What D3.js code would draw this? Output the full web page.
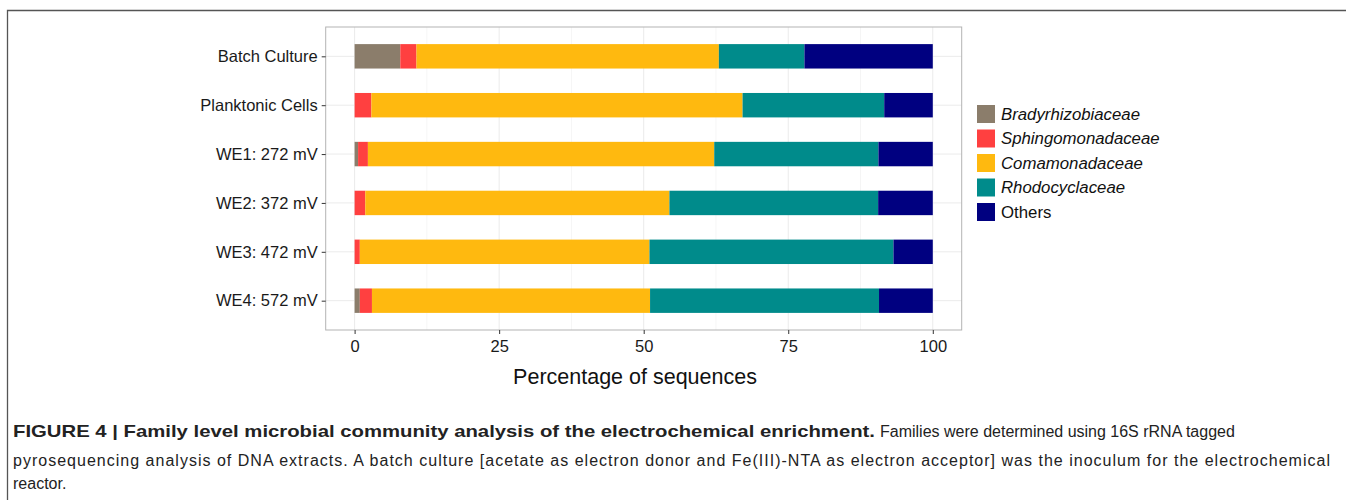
<!DOCTYPE html>
<html>
<head>
<meta charset="utf-8">
<script src="https://cdn.jsdelivr.net/npm/d3@7"></script>
<style>
  body { margin: 0; background: #fff; }
  text { font-family: "Liberation Sans", Arial, sans-serif; }
</style>
</head>
<body>
<div id="chart"></div>
<script>
(function () {
    var width = 1346, height = 500;

    // data (percent of sequences)
    var samples = ["Batch Culture", "Planktonic Cells", "WE1: 272 mV", "WE2: 372 mV", "WE3: 472 mV", "WE4: 572 mV"];
    var families = ["Bradyrhizobiaceae", "Sphingomonadaceae", "Comamonadaceae", "Rhodocyclaceae", "Others"];
    var brady   = [7.9, 0.0, 0.6, 0.0, 0.0, 0.9];
    var sphingo = [2.8, 2.9, 1.7, 1.85, 0.9, 2.1];
    var comam   = [52.3, 64.2, 59.9, 52.6, 50.1, 48.1];
    var rhodo   = [14.8, 24.5, 28.4, 36.1, 42.2, 39.6];
    var others  = [22.2, 8.4, 9.4, 9.45, 6.8, 9.3];
    var xTicks = [0, 25, 50, 75, 100];
    var colors = ["#8B7D6B", "#FF4040", "#FFB90F", "#008B8B", "#000080"];

    var series = [brady, sphingo, comam, rhodo, others];
    var table = samples.map(function (s, i) {
        var row = { sample: s };
        families.forEach(function (f, j) { row[f] = series[j][i]; });
        return row;
    });

    var svg = d3.select("#chart")
        .append("svg")
        .attr("width", width)
        .attr("height", height);

    // outer figure frame
    svg.append("path")
        .attr("d", "M7.5," + height + "V10.5H" + width)
        .attr("fill", "none")
        .attr("stroke", "#555")
        .attr("stroke-width", 1.3);

    // panel
    var panel = { left: 325.7, right: 961.7, top: 27, bottom: 330 };

    var x = d3.scaleLinear().domain([-5, 105]).range([panel.left, panel.right]);
    // ggplot-style discrete axis: 0.6 unit expansion, bars 0.5 unit wide
    var y = d3.scalePoint().domain(samples)
        .range([panel.top, panel.bottom]).padding(0.6);
    var barH = 0.5 * y.step();

    var g = svg.append("g");

    // minor grid
    var minor = [12.5, 37.5, 62.5, 87.5];
    g.selectAll(".minor").data(minor).enter().append("line")
        .attr("x1", function (d) { return x(d); }).attr("x2", function (d) { return x(d); })
        .attr("y1", panel.top).attr("y2", panel.bottom)
        .attr("stroke", "#f3f3f3").attr("stroke-width", 0.8);
    // major grid
    g.selectAll(".majorx").data(xTicks).enter().append("line")
        .attr("x1", function (d) { return x(d); }).attr("x2", function (d) { return x(d); })
        .attr("y1", panel.top).attr("y2", panel.bottom)
        .attr("stroke", "#ebebeb").attr("stroke-width", 1);
    g.selectAll(".majory").data(samples).enter().append("line")
        .attr("x1", panel.left).attr("x2", panel.right)
        .attr("y1", function (d) { return y(d); }).attr("y2", function (d) { return y(d); })
        .attr("stroke", "#ebebeb").attr("stroke-width", 1);

    // stacked bars
    var stack = d3.stack().keys(families)(table);
    g.selectAll(".layer").data(stack).enter().append("g")
        .attr("fill", function (d, i) { return colors[i]; })
        .selectAll("rect").data(function (d) { return d; }).enter().append("rect")
        .attr("x", function (d) { return x(d[0]); })
        .attr("width", function (d) { return x(d[1]) - x(d[0]); })
        .attr("y", function (d) { return y(d.data.sample) - barH / 2; })
        .attr("height", barH);

    // panel border
    g.append("rect")
        .attr("x", panel.left).attr("y", panel.top)
        .attr("width", panel.right - panel.left).attr("height", panel.bottom - panel.top)
        .attr("fill", "none").attr("stroke", "#b3b3b3").attr("stroke-width", 1);

    // x axis
    var xAxis = svg.append("g")
        .attr("transform", "translate(0," + panel.bottom + ")")
        .call(d3.axisBottom(x).tickValues(xTicks).tickSize(4).tickPadding(6));
    xAxis.select(".domain").remove();
    xAxis.selectAll(".tick line").attr("stroke", "#333");
    xAxis.selectAll(".tick text").attr("fill", "#1a1a1a").style("font-size", "16.5px");

    // y axis
    var yAxis = svg.append("g")
        .attr("transform", "translate(" + panel.left + ",0)")
        .call(d3.axisLeft(y).tickSize(4).tickPadding(4));
    yAxis.select(".domain").remove();
    yAxis.selectAll(".tick line").attr("stroke", "#333");
    yAxis.selectAll(".tick text").attr("fill", "#1a1a1a").style("font-size", "16.5px");

    // x axis title
    svg.append("text")
        .attr("x", 635).attr("y", 384)
        .attr("text-anchor", "middle")
        .attr("fill", "#111")
        .style("font-size", "21.5px")
        .text("Percentage of sequences");

    // legend
    var legend = svg.append("g").attr("transform", "translate(977,105)");
    var li = legend.selectAll(".key").data(families).enter().append("g")
        .attr("transform", function (d, i) { return "translate(0," + i * 24.5 + ")"; });
    li.append("rect").attr("width", 18).attr("height", 18)
        .attr("fill", function (d, i) { return colors[i]; });
    li.append("text").attr("x", 24).attr("y", 9).attr("dy", "0.35em")
        .attr("fill", "#111")
        .style("font-size", "16.8px")
        .style("font-style", function (d) { return d === "Others" ? "normal" : "italic"; })
        .text(function (d) { return d; });

    // caption
    var cap = svg.append("g")
        .style("font-size", "16px").attr("fill", "#222");
    cap.append("text").attr("x", 13).attr("y", 437)
        .style("font-weight", "bold").style("font-size", "17px")
        .attr("textLength", 862).attr("lengthAdjust", "spacingAndGlyphs")
        .text("FIGURE 4 | Family level microbial community analysis of the electrochemical enrichment.");
    cap.append("text").attr("x", 880).attr("y", 437)
        .text("Families were determined using 16S rRNA tagged");
    cap.append("text").attr("x", 13).attr("y", 466)
        .attr("textLength", 1317).attr("lengthAdjust", "spacing")
        .text("pyrosequencing analysis of DNA extracts. A batch culture [acetate as electron donor and Fe(III)-NTA as electron acceptor] was the inoculum for the electrochemical");
    cap.append("text").attr("x", 13).attr("y", 489)
        .text("reactor.");
})();
</script>
</body>
</html>
